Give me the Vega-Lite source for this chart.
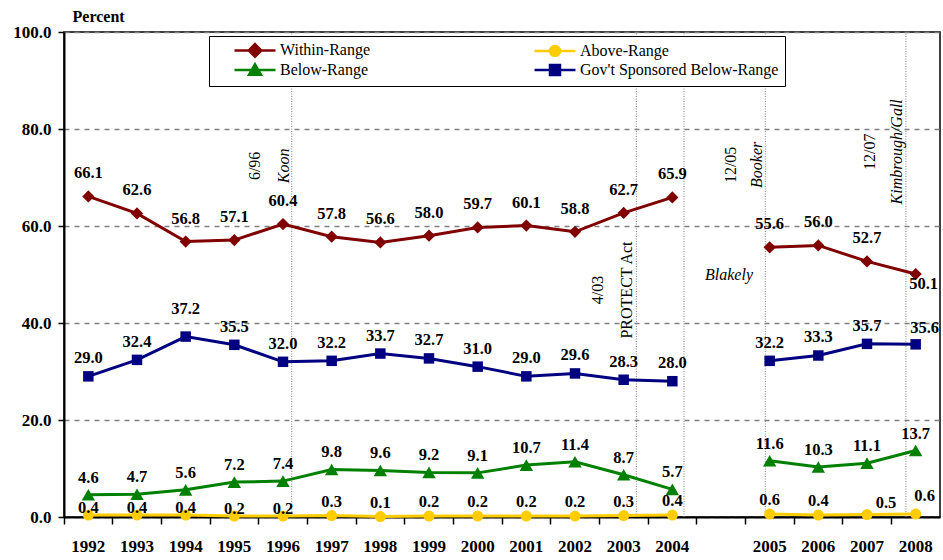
{
"$schema": "https://vega.github.io/schema/vega-lite/v6.json",
"width": 876, "height": 485,
"autosize": {"type": "none"},
"padding": {"left": 64, "top": 32, "right": 3, "bottom": 43},
"background": "white",
"config": {"view": {"stroke": "black", "strokeWidth": 1.5}, "font": "Liberation Serif"},
"datasets": {
"series": [
{"series":"Within-Range","year":"1992","value":66.1,"period":"1992-2004"},
{"series":"Within-Range","year":"1993","value":62.6,"period":"1992-2004"},
{"series":"Within-Range","year":"1994","value":56.8,"period":"1992-2004"},
{"series":"Within-Range","year":"1995","value":57.1,"period":"1992-2004"},
{"series":"Within-Range","year":"1996","value":60.4,"period":"1992-2004"},
{"series":"Within-Range","year":"1997","value":57.8,"period":"1992-2004"},
{"series":"Within-Range","year":"1998","value":56.6,"period":"1992-2004"},
{"series":"Within-Range","year":"1999","value":58.0,"period":"1992-2004"},
{"series":"Within-Range","year":"2000","value":59.7,"period":"1992-2004"},
{"series":"Within-Range","year":"2001","value":60.1,"period":"1992-2004"},
{"series":"Within-Range","year":"2002","value":58.8,"period":"1992-2004"},
{"series":"Within-Range","year":"2003","value":62.7,"period":"1992-2004"},
{"series":"Within-Range","year":"2004","value":65.9,"period":"1992-2004"},
{"series":"Within-Range","year":"2005","value":55.6,"period":"2005-2008"},
{"series":"Within-Range","year":"2006","value":56.0,"period":"2005-2008"},
{"series":"Within-Range","year":"2007","value":52.7,"period":"2005-2008"},
{"series":"Within-Range","year":"2008","value":50.1,"period":"2005-2008"},
{"series":"Above-Range","year":"1992","value":0.4,"period":"1992-2004"},
{"series":"Above-Range","year":"1993","value":0.4,"period":"1992-2004"},
{"series":"Above-Range","year":"1994","value":0.4,"period":"1992-2004"},
{"series":"Above-Range","year":"1995","value":0.2,"period":"1992-2004"},
{"series":"Above-Range","year":"1996","value":0.2,"period":"1992-2004"},
{"series":"Above-Range","year":"1997","value":0.3,"period":"1992-2004"},
{"series":"Above-Range","year":"1998","value":0.1,"period":"1992-2004"},
{"series":"Above-Range","year":"1999","value":0.2,"period":"1992-2004"},
{"series":"Above-Range","year":"2000","value":0.2,"period":"1992-2004"},
{"series":"Above-Range","year":"2001","value":0.2,"period":"1992-2004"},
{"series":"Above-Range","year":"2002","value":0.2,"period":"1992-2004"},
{"series":"Above-Range","year":"2003","value":0.3,"period":"1992-2004"},
{"series":"Above-Range","year":"2004","value":0.4,"period":"1992-2004"},
{"series":"Above-Range","year":"2005","value":0.6,"period":"2005-2008"},
{"series":"Above-Range","year":"2006","value":0.4,"period":"2005-2008"},
{"series":"Above-Range","year":"2007","value":0.5,"period":"2005-2008"},
{"series":"Above-Range","year":"2008","value":0.6,"period":"2005-2008"},
{"series":"Below-Range","year":"1992","value":4.6,"period":"1992-2004"},
{"series":"Below-Range","year":"1993","value":4.7,"period":"1992-2004"},
{"series":"Below-Range","year":"1994","value":5.6,"period":"1992-2004"},
{"series":"Below-Range","year":"1995","value":7.2,"period":"1992-2004"},
{"series":"Below-Range","year":"1996","value":7.4,"period":"1992-2004"},
{"series":"Below-Range","year":"1997","value":9.8,"period":"1992-2004"},
{"series":"Below-Range","year":"1998","value":9.6,"period":"1992-2004"},
{"series":"Below-Range","year":"1999","value":9.2,"period":"1992-2004"},
{"series":"Below-Range","year":"2000","value":9.1,"period":"1992-2004"},
{"series":"Below-Range","year":"2001","value":10.7,"period":"1992-2004"},
{"series":"Below-Range","year":"2002","value":11.4,"period":"1992-2004"},
{"series":"Below-Range","year":"2003","value":8.7,"period":"1992-2004"},
{"series":"Below-Range","year":"2004","value":5.7,"period":"1992-2004"},
{"series":"Below-Range","year":"2005","value":11.6,"period":"2005-2008"},
{"series":"Below-Range","year":"2006","value":10.3,"period":"2005-2008"},
{"series":"Below-Range","year":"2007","value":11.1,"period":"2005-2008"},
{"series":"Below-Range","year":"2008","value":13.7,"period":"2005-2008"},
{"series":"Gov't Sponsored Below-Range","year":"1992","value":29.0,"period":"1992-2004"},
{"series":"Gov't Sponsored Below-Range","year":"1993","value":32.4,"period":"1992-2004"},
{"series":"Gov't Sponsored Below-Range","year":"1994","value":37.2,"period":"1992-2004"},
{"series":"Gov't Sponsored Below-Range","year":"1995","value":35.5,"period":"1992-2004"},
{"series":"Gov't Sponsored Below-Range","year":"1996","value":32.0,"period":"1992-2004"},
{"series":"Gov't Sponsored Below-Range","year":"1997","value":32.2,"period":"1992-2004"},
{"series":"Gov't Sponsored Below-Range","year":"1998","value":33.7,"period":"1992-2004"},
{"series":"Gov't Sponsored Below-Range","year":"1999","value":32.7,"period":"1992-2004"},
{"series":"Gov't Sponsored Below-Range","year":"2000","value":31.0,"period":"1992-2004"},
{"series":"Gov't Sponsored Below-Range","year":"2001","value":29.0,"period":"1992-2004"},
{"series":"Gov't Sponsored Below-Range","year":"2002","value":29.6,"period":"1992-2004"},
{"series":"Gov't Sponsored Below-Range","year":"2003","value":28.3,"period":"1992-2004"},
{"series":"Gov't Sponsored Below-Range","year":"2004","value":28.0,"period":"1992-2004"},
{"series":"Gov't Sponsored Below-Range","year":"2005","value":32.2,"period":"2005-2008"},
{"series":"Gov't Sponsored Below-Range","year":"2006","value":33.3,"period":"2005-2008"},
{"series":"Gov't Sponsored Below-Range","year":"2007","value":35.7,"period":"2005-2008"},
{"series":"Gov't Sponsored Below-Range","year":"2008","value":35.6,"period":"2005-2008"}
],
"events": [
{"event":"Koon","date":"6/96","year":"1996"},
{"event":"PROTECT Act","date":"4/03","year":"2003"},
{"event":"Blakely","date":"","year":"2004"},
{"event":"Booker","date":"12/05","year":"2005"},
{"event":"Kimbrough/Gall","date":"12/07","year":"2008"}
]
},
"encoding": {
"x": {"field":"year","type":"ordinal",
 "scale":{"type":"band","domain":["1992","1993","1994","1995","1996","1997","1998","1999","2000","2001","2002","2003","2004"," ","2005","2006","2007","2008"],"paddingInner":0,"paddingOuter":0},
 "axis":{"labelFont":"Liberation Serif","labelFontSize":17,"labelFontWeight":"bold","labelColor":"black","labelAngle":0,"labelPadding":14,"bandPosition":0,"tickSize":7,"tickColor":"black","tickWidth":1.5,"domainColor":"black","domainWidth":2,"title":null,"grid":false}}
},
"layer": [
{"data":{"name":"events"},"transform":[{"filter":{"field":"event","equal":"Koon"}}],
 "encoding":{"x":{"field":"year","type":"ordinal","bandPosition":0.68}},
 "layer":[
  {"mark":{"type":"rule","color":"#7f7f7f","strokeWidth":1,"strokeDash":[1,1.5]},"encoding":{"y":{"datum":0},"y2":{"datum":100}}},
  {"mark":{"type":"text","angle":270,"dy":-37,"fontSize":16,"font":"Liberation Serif","color":"black"},"encoding":{"y":{"datum":72.4},"text":{"field":"date"}}},
  {"mark":{"type":"text","angle":270,"dy":-8,"fontSize":16,"fontStyle":"italic","font":"Liberation Serif","color":"black"},"encoding":{"y":{"datum":72.4},"text":{"field":"event"}}}
 ]},
{"data":{"name":"events"},"transform":[{"filter":{"field":"event","equal":"PROTECT Act"}}],
 "encoding":{"x":{"field":"year","type":"ordinal","bandPosition":0.76}},
 "layer":[
  {"mark":{"type":"rule","color":"#7f7f7f","strokeWidth":1,"strokeDash":[1,1.5]},"encoding":{"y":{"datum":0},"y2":{"datum":100}}},
  {"mark":{"type":"text","angle":270,"dy":-38,"fontSize":16,"font":"Liberation Serif","color":"black"},"encoding":{"y":{"datum":46.8},"text":{"field":"date"}}},
  {"mark":{"type":"text","angle":270,"dy":-9,"fontSize":16,"font":"Liberation Serif","color":"black"},"encoding":{"y":{"datum":46.8},"text":{"field":"event"}}}
 ]},
{"data":{"name":"events"},"transform":[{"filter":{"field":"event","equal":"Blakely"}}],
 "encoding":{"x":{"field":"year","type":"ordinal","bandPosition":0.74}},
 "layer":[
  {"mark":{"type":"rule","color":"#7f7f7f","strokeWidth":1,"strokeDash":[1,1.5]},"encoding":{"y":{"datum":0},"y2":{"datum":100}}},
  {"mark":{"type":"text","dx":45,"fontSize":16,"fontStyle":"italic","font":"Liberation Serif","color":"black"},"encoding":{"y":{"datum":49.9},"text":{"field":"event"}}}
 ]},
{"data":{"name":"events"},"transform":[{"filter":{"field":"event","equal":"Booker"}}],
 "encoding":{"x":{"field":"year","type":"ordinal","bandPosition":0.41}},
 "layer":[
  {"mark":{"type":"rule","color":"#7f7f7f","strokeWidth":1,"strokeDash":[1,1.5]},"encoding":{"y":{"datum":0},"y2":{"datum":100}}},
  {"mark":{"type":"text","angle":270,"dy":-34,"fontSize":16,"font":"Liberation Serif","color":"black"},"encoding":{"y":{"datum":72.6},"text":{"field":"date"}}},
  {"mark":{"type":"text","angle":270,"dy":-8,"fontSize":16,"fontStyle":"italic","font":"Liberation Serif","color":"black"},"encoding":{"y":{"datum":72.6},"text":{"field":"event"}}}
 ]},
{"data":{"name":"events"},"transform":[{"filter":{"field":"event","equal":"Kimbrough/Gall"}}],
 "encoding":{"x":{"field":"year","type":"ordinal","bandPosition":0.30}},
 "layer":[
  {"mark":{"type":"rule","color":"#7f7f7f","strokeWidth":1,"strokeDash":[1,1.5]},"encoding":{"y":{"datum":0},"y2":{"datum":100}}},
  {"mark":{"type":"text","angle":270,"dy":-36,"fontSize":16,"font":"Liberation Serif","color":"black"},"encoding":{"y":{"datum":75.3},"text":{"field":"date"}}},
  {"mark":{"type":"text","angle":270,"dy":-9,"fontSize":16,"fontStyle":"italic","font":"Liberation Serif","color":"black"},"encoding":{"y":{"datum":75.3},"text":{"field":"event"}}}
 ]},
{"data":{"name":"series"},
 "encoding":{"y":{"field":"value","type":"quantitative",
   "scale":{"domain":[0,100],"nice":false,"zero":true},
   "axis":{"values":[0,20,40,60,80,100],"format":".1f","labelFont":"Liberation Serif","labelFontSize":17,"labelFontWeight":"bold","labelColor":"black","labelPadding":7,"tickColor":"black","tickSize":6,"tickWidth":1.5,"domainColor":"black","domainWidth":2,"grid":true,"gridColor":"#808080","gridDash":[5,5],"gridWidth":1.5,"title":"Percent","titleAngle":0,"titleX":8,"titleY":-16,"titleAlign":"left","titleBaseline":"middle","titleFont":"Liberation Serif","titleFontSize":16,"titleFontWeight":"bold","titleColor":"black"}}},
 "layer":[
  {"transform":[{"filter":{"field":"series","equal":"Within-Range"}}],"mark":{"type":"line","strokeWidth":3,"color":"#800000"},"encoding":{"detail":{"field":"period"}}},
  {"transform":[{"filter":{"field":"series","equal":"Above-Range"}}],"mark":{"type":"line","strokeWidth":3,"color":"#FFCC00"},"encoding":{"detail":{"field":"period"}}},
  {"transform":[{"filter":{"field":"series","equal":"Below-Range"}}],"mark":{"type":"line","strokeWidth":3,"color":"#008000"},"encoding":{"detail":{"field":"period"}}},
  {"transform":[{"filter":{"field":"series","equal":"Gov't Sponsored Below-Range"}}],"mark":{"type":"line","strokeWidth":3,"color":"#000080"},"encoding":{"detail":{"field":"period"}}},
  {"transform":[{"filter":{"field":"series","equal":"Within-Range"}}],"mark":{"type":"point","filled":true,"opacity":1,"shape":"diamond","size":150,"color":"#800000"}},
  {"transform":[{"filter":{"field":"series","equal":"Above-Range"}}],"mark":{"type":"point","filled":true,"opacity":1,"shape":"circle","size":120,"color":"#FFCC00"}},
  {"transform":[{"filter":{"field":"series","equal":"Below-Range"}}],"mark":{"type":"point","filled":true,"opacity":1,"shape":"triangle-up","size":180,"color":"#008000"}},
  {"transform":[{"filter":{"field":"series","equal":"Gov't Sponsored Below-Range"}}],"mark":{"type":"point","filled":true,"opacity":1,"shape":"square","size":110,"color":"#000080"}},
  {"transform":[{"filter":"datum.value < 0"}],
   "mark":{"type":"point","filled":true,"opacity":1,"strokeWidth":2.5},
   "encoding":{
    "fill":{"field":"series","type":"nominal","scale":{"domain":["Within-Range","Below-Range","Above-Range","Gov't Sponsored Below-Range"],"range":["#800000","#008000","#FFCC00","#000080"]},
     "legend":{"title":null,"orient":"none","legendX":145,"legendY":4,"columns":2,"columnPadding":145,"rowPadding":-6,"padding":6,"strokeColor":"black","fillColor":"white","labelFont":"Liberation Serif","labelFontSize":16,"labelColor":"black","labelLimit":400,"symbolOffset":32,"labelOffset":17,"symbolSize":100,"symbolStrokeWidth":2.5,"symbolOpacity":1}},
    "stroke":{"field":"series","type":"nominal","scale":{"domain":["Within-Range","Below-Range","Above-Range","Gov't Sponsored Below-Range"],"range":["#800000","#008000","#FFCC00","#000080"]},
     "legend":{"title":null,"orient":"none","legendX":145,"legendY":4,"columns":2,"columnPadding":145,"rowPadding":-6,"padding":6,"strokeColor":"black","fillColor":"white","labelFont":"Liberation Serif","labelFontSize":16,"labelColor":"black","labelLimit":400,"symbolOffset":32,"labelOffset":17,"symbolSize":100,"symbolStrokeWidth":2.5,"symbolOpacity":1}},
    "shape":{"field":"series","type":"nominal","scale":{"domain":["Within-Range","Below-Range","Above-Range","Gov't Sponsored Below-Range"],"range":["M-4.1,0H4.1M0,-1.25L1.25,0L0,1.25L-1.25,0Z","M-4.1,0H4.1M0,-1.15L1.2,0.95L-1.2,0.95Z","M-4.1,0H4.1M-1,0A1,1,0,1,1,1,0A1,1,0,1,1,-1,0Z","M-4.1,0H4.1M-1,-1H1V1H-1Z"]},
     "legend":{"title":null,"orient":"none","legendX":145,"legendY":4,"columns":2,"columnPadding":145,"rowPadding":-6,"padding":6,"strokeColor":"black","fillColor":"white","labelFont":"Liberation Serif","labelFontSize":16,"labelColor":"black","labelLimit":400,"symbolOffset":32,"labelOffset":17,"symbolSize":100,"symbolStrokeWidth":2.5,"symbolOpacity":1}}}},
  {"transform":[{"filter":{"and":[{"field":"series","equal":"Within-Range"},{"not":{"field":"year","equal":"2008"}}]}}],
   "mark":{"type":"text","font":"Liberation Serif","fontWeight":"bold","fontSize":16.5,"color":"black","dy":-23},
   "encoding":{"text":{"field":"value","type":"quantitative","format":".1f"}}},
  {"transform":[{"filter":{"and":[{"field":"series","equal":"Within-Range"},{"field":"year","equal":"2008"}]}}],
   "mark":{"type":"text","font":"Liberation Serif","fontWeight":"bold","fontSize":16.5,"color":"black","dy":10,"dx":8},
   "encoding":{"text":{"field":"value","type":"quantitative","format":".1f"}}},
  {"transform":[{"filter":{"and":[{"field":"series","equal":"Gov't Sponsored Below-Range"},{"not":{"field":"year","oneOf":["1994","2008"]}}]}}],
   "mark":{"type":"text","font":"Liberation Serif","fontWeight":"bold","fontSize":16.5,"color":"black","dy":-18},
   "encoding":{"text":{"field":"value","type":"quantitative","format":".1f"}}},
  {"transform":[{"filter":{"and":[{"field":"series","equal":"Gov't Sponsored Below-Range"},{"field":"year","equal":"1994"}]}}],
   "mark":{"type":"text","font":"Liberation Serif","fontWeight":"bold","fontSize":16.5,"color":"black","dy":-28},
   "encoding":{"text":{"field":"value","type":"quantitative","format":".1f"}}},
  {"transform":[{"filter":{"and":[{"field":"series","equal":"Gov't Sponsored Below-Range"},{"field":"year","equal":"2008"}]}}],
   "mark":{"type":"text","font":"Liberation Serif","fontWeight":"bold","fontSize":16.5,"color":"black","dy":-16,"dx":9},
   "encoding":{"text":{"field":"value","type":"quantitative","format":".1f"}}},
  {"transform":[{"filter":{"field":"series","equal":"Below-Range"}}],
   "mark":{"type":"text","font":"Liberation Serif","fontWeight":"bold","fontSize":16.5,"color":"black","dy":-17},
   "encoding":{"text":{"field":"value","type":"quantitative","format":".1f"}}},
  {"transform":[{"filter":{"and":[{"field":"series","equal":"Above-Range"},{"field":"year","oneOf":["1992","1993","1994","1995","1996"]}]}}],
   "mark":{"type":"text","font":"Liberation Serif","fontWeight":"bold","fontSize":16.5,"color":"black","dy":-7},
   "encoding":{"text":{"field":"value","type":"quantitative","format":".1f"}}},
  {"transform":[{"filter":{"and":[{"field":"series","equal":"Above-Range"},{"field":"year","oneOf":["1997","1998","1999","2000","2001","2002","2003","2004","2005","2006"]}]}}],
   "mark":{"type":"text","font":"Liberation Serif","fontWeight":"bold","fontSize":16.5,"color":"black","dy":-14},
   "encoding":{"text":{"field":"value","type":"quantitative","format":".1f"}}},
  {"transform":[{"filter":{"and":[{"field":"series","equal":"Above-Range"},{"field":"year","equal":"2007"}]}}],
   "mark":{"type":"text","font":"Liberation Serif","fontWeight":"bold","fontSize":16.5,"color":"black","dy":-12,"dx":19},
   "encoding":{"text":{"field":"value","type":"quantitative","format":".1f"}}},
  {"transform":[{"filter":{"and":[{"field":"series","equal":"Above-Range"},{"field":"year","equal":"2008"}]}}],
   "mark":{"type":"text","font":"Liberation Serif","fontWeight":"bold","fontSize":16.5,"color":"black","dy":-18,"dx":9},
   "encoding":{"text":{"field":"value","type":"quantitative","format":".1f"}}}
 ]}
]
}
